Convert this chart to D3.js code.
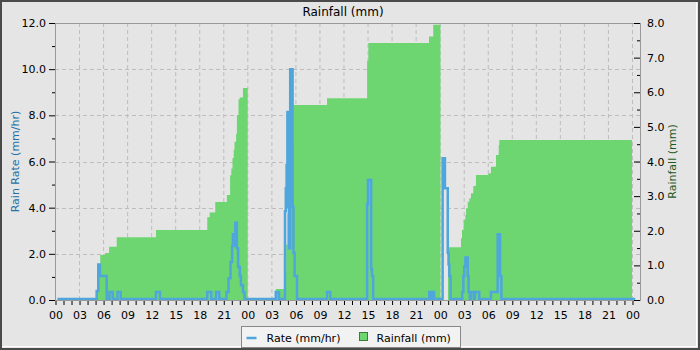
<!DOCTYPE html>
<html>
<head>
<meta charset="utf-8">
<script src="https://cdn.jsdelivr.net/npm/d3@7"></script>
<style>
  html, body { margin: 0; padding: 0; background: #e5e5e5; }
  svg { display: block; font-family: "DejaVu Sans", sans-serif; }
</style>
</head>
<body>
<svg id="chart" width="700" height="350"></svg>
<script>
// hours since the first midnight shown
const rateHours = [0.3, 5.2, 5.4, 5.6, 6.45, 6.8, 7.2, 7.8, 8.2, 12.6, 13.1, 19.0, 19.5, 20.1, 20.5,
  21.4, 21.65, 21.9, 22.1, 22.2, 22.4, 22.5, 22.7, 22.85, 23.05, 23.2, 23.45, 23.65,
  27.55, 27.95, 28.7, 28.8, 28.9, 29.0, 29.1, 29.2, 29.35, 29.65, 29.75, 29.9, 30.2,
  33.95, 34.35, 38.95, 39.05, 39.45, 39.55, 39.7, 46.7, 46.92, 47.04, 47.3,
  48.37, 48.66, 49.01, 49.11, 49.21, 49.36, 50.81, 50.96, 51.06, 51.21, 51.5, 51.61, 51.76,
  51.91, 52.28, 52.41, 52.94, 54.4, 55.24, 55.53, 55.7, 72.4];
const rateValues = [0, 0.35, 1.5, 1.0, 0, 0.3, 0, 0.3, 0, 0.3, 0, 0.3, 0, 0.3, 0,
  0.3, 0.9, 1.6, 2.3, 2.8, 2.3, 3.3, 2.2, 1.4, 1.0, 0.6, 0.3, 0,
  0.3, 0, 3.8, 4.8, 5.8, 8.1, 4.0, 2.2, 9.95, 4.0, 2.0, 1.0, 0,
  0.3, 0, 4.1, 5.15, 1.3, 1.0, 0, 0.3, 0, 0.3, 0,
  6.1, 4.8, 2.0, 1.5, 1.0, 0, 0.3, 1.0, 1.4, 1.8, 1.0, 0.3, 0,
  0.3, 0, 0.3, 0, 0.3, 2.8, 1.0, 0, 0];

const rainHours = [0.3, 5.2, 5.45, 5.65, 6.25, 6.75, 7.7, 12.6, 19.0, 19.3, 20.0, 21.45, 21.85, 22.0,
  22.15, 22.3, 22.4, 22.6, 22.7, 22.9, 23.05, 23.45,
  24.05, 27.55, 28.7, 28.85, 29.0, 29.3, 29.5, 29.75, 33.95, 38.95, 39.1, 46.67, 47.2,
  48.1, 49.04, 50.66, 50.79, 51.0, 51.2, 51.29, 51.5, 51.7, 51.91, 52.2, 52.53, 54.07, 54.4,
  55.03, 55.37, 55.44, 72.0];
const rainValues = [0, 0.29, 0.7, 1.3, 1.36, 1.54, 1.81, 2.02, 2.39, 2.53, 2.83, 3.03, 3.6, 3.8,
  4.1, 4.34, 4.57, 4.8, 5.34, 5.8, 5.85, 6.12,
  0, 0.32, 0.8, 1.6, 2.5, 3.56, 4.5, 5.63, 5.83, 6.9, 7.42, 7.61, 7.95,
  0, 1.52, 1.78, 2.02, 2.31, 2.45, 2.65, 2.84, 2.94, 3.08, 3.29, 3.61, 3.66, 3.85,
  4.19, 4.48, 4.62, 4.62];

const hourLabels = ['00', '03', '06', '09', '12', '15', '18', '21'];
const rateTicks = [0, 2, 4, 6, 8, 10, 12];
const rainTicks = [0, 1, 2, 3, 4, 5, 6, 7, 8];

const rate = rateHours.map((h, i) => ({ h, v: rateValues[i] }));
const rain = rainHours.map((h, i) => ({ h, v: rainValues[i] }));

const svg = d3.select('#chart');
const margin = { top: 23, right: 60, bottom: 50, left: 55 };
const W = 700, H = 350;
const plotW = W - margin.left - margin.right;   // 585
const plotH = 277;

// background + frame
svg.append('rect').attr('x', 0).attr('y', 0).attr('width', W).attr('height', H).attr('fill', '#e5e5e5');
svg.append('rect').attr('x', 1).attr('y', 1).attr('width', W - 2).attr('height', H - 2)
  .attr('fill', 'none').attr('stroke', '#4a4a4a').attr('stroke-width', 2);
svg.append('line').attr('x1', 2).attr('x2', 697).attr('y1', 346.5).attr('y2', 346.5).attr('stroke', '#fff');
svg.append('line').attr('x1', 696.5).attr('x2', 696.5).attr('y1', 2).attr('y2', 347).attr('stroke', '#fff');

const g = svg.append('g').attr('transform', `translate(${margin.left},${margin.top})`);

const x = d3.scaleLinear().domain([0, 73]).range([0, plotW]);
const yRate = d3.scaleLinear().domain([0, 12]).range([plotH, 0]);
const yRain = d3.scaleLinear().domain([0, 8]).range([plotH, 0]);

// grid
const gridHours = d3.range(0, 73, 3);
g.append('g').selectAll('line').data(gridHours).enter().append('line')
  .attr('x1', d => x(d) + 0.5).attr('x2', d => x(d) + 0.5)
  .attr('y1', 0).attr('y2', plotH)
  .attr('stroke', '#bdbdbd').attr('stroke-dasharray', '4,3');
g.append('g').selectAll('line').data(rateTicks).enter().append('line')
  .attr('x1', 0).attr('x2', plotW)
  .attr('y1', d => Math.round(yRate(d)) + 0.5).attr('y2', d => Math.round(yRate(d)) + 0.5)
  .attr('stroke', '#bdbdbd').attr('stroke-dasharray', '4,3');

// rainfall area (step)
const area = d3.area()
  .x(d => x(d.h))
  .y0(plotH)
  .y1(d => yRain(d.v))
  .curve(d3.curveStepAfter);
g.append('path').datum(rain)
  .attr('fill', '#6dd670')
  .attr('d', area);

// rate line (step)
const line = d3.line()
  .x(d => x(d.h))
  .y(d => yRate(d.v) - 1)
  .curve(d3.curveStepAfter);
g.append('path').datum(rate)
  .attr('fill', 'none')
  .attr('stroke', '#4ea6dc')
  .attr('stroke-width', 2.5)
  .attr('d', line);

// plot border
g.append('rect').attr('x', 0.5).attr('y', 0.5).attr('width', plotW).attr('height', plotH)
  .attr('fill', 'none').attr('stroke', '#999').attr('stroke-width', 1);

// x axis
const xAxis = g.append('g').attr('transform', `translate(0,${plotH + 1})`);
xAxis.call(d3.axisBottom(x).tickValues(d3.range(0, 73, 1)).tickSize(4).tickFormat(''));
xAxis.select('.domain').remove();
xAxis.selectAll('line').attr('stroke', '#000').attr('transform', 'translate(0.5,0)');
g.append('g').selectAll('text').data(gridHours).enter().append('text')
  .attr('x', d => x(d) + 1)
  .attr('y', plotH + 19)
  .attr('text-anchor', 'middle')
  .style('font-size', '11px')
  .attr('fill', '#000')
  .text(d => hourLabels[(d / 3) % 8]);

// left axis
const yl = g.append('g');
yl.call(d3.axisLeft(yRate).tickValues(d3.range(0, 13, 1)).tickSize(3).tickFormat(''));
yl.select('.domain').remove();
yl.selectAll('.tick line').attr('stroke', '#000')
  .attr('x2', d => (d % 2 === 0 ? -6 : -3));
g.append('g').selectAll('text').data(rateTicks).enter().append('text')
  .attr('x', -9)
  .attr('y', d => yRate(d) + 4)
  .attr('text-anchor', 'end')
  .style('font-size', '11px')
  .text(d => d.toFixed(1));

// right axis (ticks point inward)
const yr = g.append('g').attr('transform', `translate(${plotW},0)`);
yr.call(d3.axisLeft(yRain).tickValues(d3.range(0, 8.01, 0.5)).tickSize(3).tickFormat(''));
yr.select('.domain').remove();
yr.selectAll('.tick line').attr('stroke', '#000')
  .attr('x2', d => (d % 1 === 0 ? -6 : -3));
g.append('g').selectAll('text').data(rainTicks).enter().append('text')
  .attr('x', plotW + 7)
  .attr('y', d => yRain(d) + 4)
  .attr('text-anchor', 'start')
  .style('font-size', '11px')
  .text(d => d.toFixed(1));

// titles
svg.append('text').attr('x', 343).attr('y', 16).attr('text-anchor', 'middle')
  .style('font-size', '12px').text('Rainfall (mm)');
svg.append('text')
  .attr('transform', `translate(19,${margin.top + plotH / 2}) rotate(-90)`)
  .attr('text-anchor', 'middle')
  .style('font-size', '11px').attr('fill', '#2170a8')
  .text('Rain Rate (mm/hr)');
svg.append('text')
  .attr('transform', `translate(676,${margin.top + plotH / 2}) rotate(-90)`)
  .attr('text-anchor', 'middle')
  .style('font-size', '11px').attr('fill', '#1e5a1e')
  .text('Rainfall (mm)');

// legend
const lg = svg.append('g').attr('transform', 'translate(241.5,326.5)');
lg.append('rect').attr('width', 219).attr('height', 21)
  .attr('fill', '#f2f2f2').attr('stroke', '#888');
lg.append('line').attr('x1', 5).attr('x2', 15).attr('y1', 11.5).attr('y2', 11.5)
  .attr('stroke', '#4ea6dc').attr('stroke-width', 2.5);
lg.append('text').attr('x', 25).attr('y', 15).style('font-size', '11px').text('Rate (mm/hr)');
lg.append('rect').attr('x', 118).attr('y', 6).attr('width', 8).attr('height', 8)
  .attr('fill', '#6dd670').attr('stroke', '#3c7a3c');
lg.append('text').attr('x', 135).attr('y', 15).style('font-size', '11px').text('Rainfall (mm)');
</script>
</body>
</html>
